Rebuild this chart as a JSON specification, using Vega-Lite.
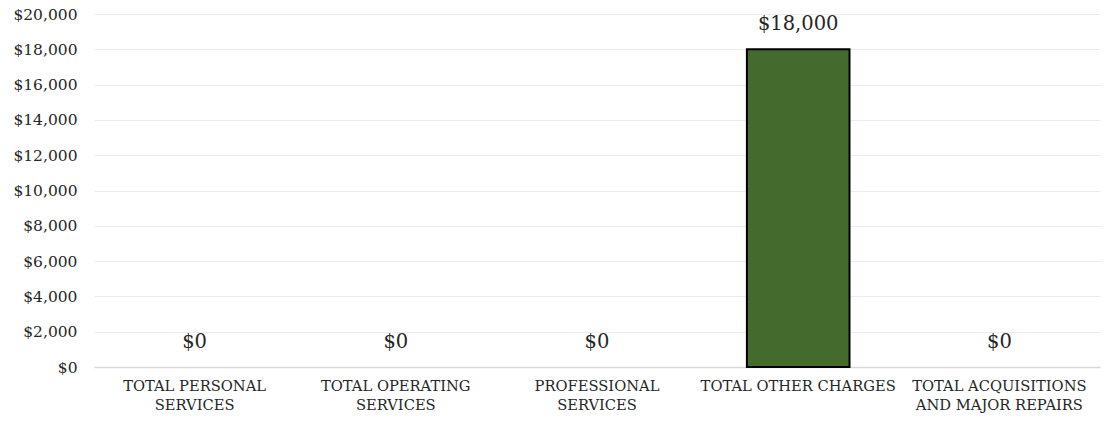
{
  "$schema": "https://vega.github.io/schema/vega-lite/v6.json",
  "width": 1006,
  "height": 353,
  "autosize": "none",
  "padding": {"left": 94, "top": 14, "right": 5, "bottom": 55},
  "background": "white",
  "config": {"view": {"stroke": null}, "font": "DejaVu Serif"},
  "data": {"values": [
    {"category": "TOTAL PERSONAL|SERVICES", "amount": 0},
    {"category": "TOTAL OPERATING|SERVICES", "amount": 0},
    {"category": "PROFESSIONAL|SERVICES", "amount": 0},
    {"category": "TOTAL OTHER CHARGES", "amount": 18000},
    {"category": "TOTAL ACQUISITIONS|AND MAJOR REPAIRS", "amount": 0}
  ]},
  "encoding": {
    "x": {"field": "category", "type": "nominal",
      "sort": ["TOTAL PERSONAL|SERVICES", "TOTAL OPERATING|SERVICES", "PROFESSIONAL|SERVICES", "TOTAL OTHER CHARGES", "TOTAL ACQUISITIONS|AND MAJOR REPAIRS"],
      "scale": {"paddingInner": 0.49, "paddingOuter": 0.245},
      "axis": {"title": null, "labelAngle": 0, "ticks": false, "domain": true, "domainColor": "#d9d9d9", "domainWidth": 1.5,
        "labelExpr": "split(datum.value, '|')", "labelFont": "DejaVu Serif", "labelFontSize": 14.7, "labelColor": "#262626", "labelPadding": 11, "labelLineHeight": 19, "labelOverlap": false, "labelLimit": 0}},
    "y": {"field": "amount", "type": "quantitative",
      "scale": {"domain": [0, 20000]},
      "axis": {"title": null, "values": [0,2000,4000,6000,8000,10000,12000,14000,16000,18000,20000], "format": "$,.0f", "domain": false, "ticks": false, "gridColor": "#ececec", "gridWidth": 1, "labelFont": "DejaVu Serif", "labelFontSize": 15.5, "labelColor": "#262626", "labelPadding": 17, "labelOverlap": false}}
  },
  "layer": [
    {"transform": [{"filter": "datum.amount > 0"}],
     "mark": {"type": "bar", "color": "#446a2e", "stroke": "#000000", "strokeWidth": 2}},
    {"mark": {"type": "text", "baseline": "middle", "dy": -25, "fontSize": 19.5, "font": "DejaVu Serif", "color": "#262626"},
      "encoding": {"text": {"field": "amount", "type": "quantitative", "format": "$,.0f"}}}
  ]
}
